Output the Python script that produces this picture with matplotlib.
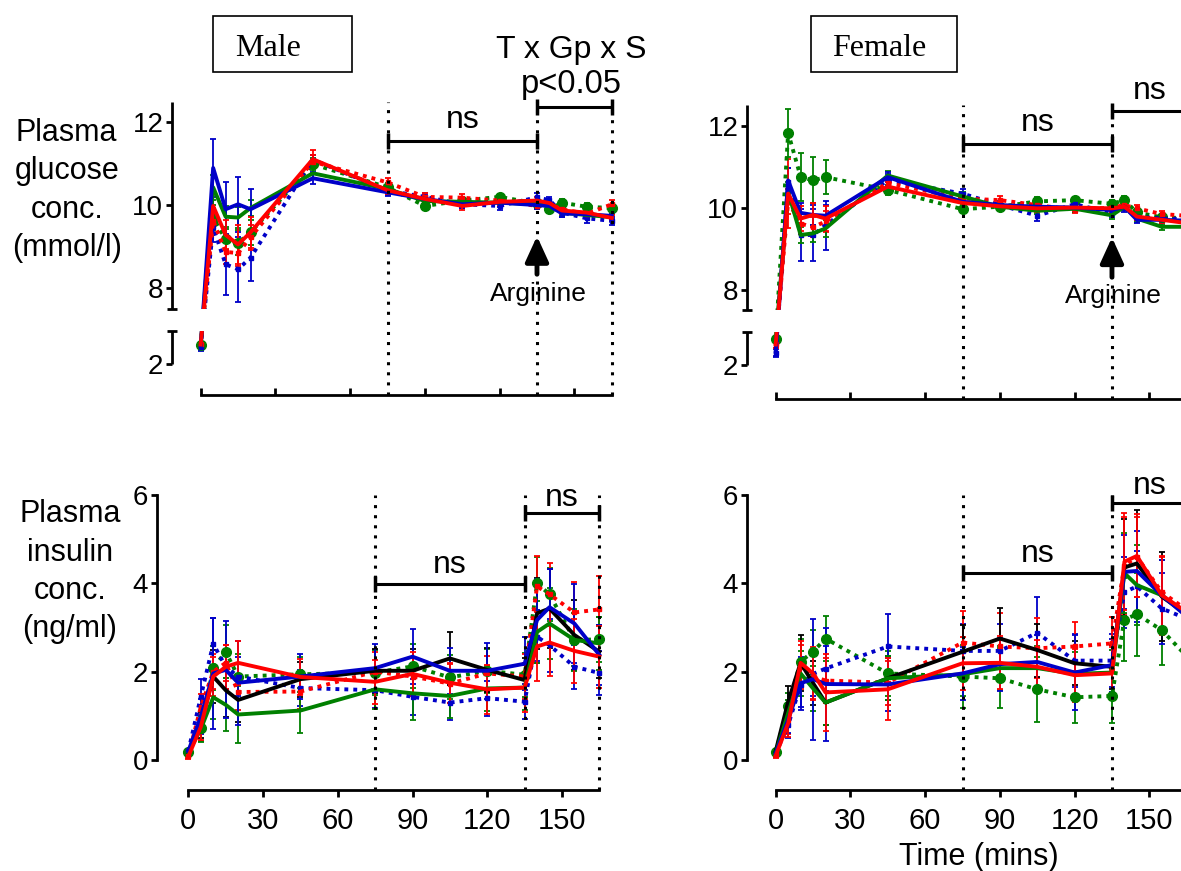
import numpy as np
import matplotlib
matplotlib.use('Agg')
import matplotlib.pyplot as plt
from matplotlib.patches import Rectangle

plt.rcParams['font.family'] = ['Liberation Sans', 'DejaVu Sans']

# ------------------------------- data ------------------------------- #
t = [0, 5, 10, 15, 20, 45, 75, 90, 105, 120, 135, 140, 145, 155, 165]
x_ticks = [0, 30, 60, 90, 120, 150]

# Male glucose (mmol/l)
m_glu_green = [2.45, 10.43, 9.72, 9.70, 9.93, 10.77, 10.39, 10.10, 10.08, 10.06, 10.02, 9.98, 9.82, 9.76, 9.71]
m_glu_blue = [2.42, 10.90, 9.90, 10.02, 9.90, 10.65, 10.31, 10.15, 10.02, 10.06, 10.00, 9.98, 9.80, 9.78, 9.74]
m_glu_red = [2.47, 9.98, 9.28, 9.05, 9.34, 11.11, 10.36, 10.15, 9.98, 10.08, 10.11, 10.05, 9.87, 9.82, 9.69]
m_glu_green_d = [2.45, 9.70, 9.17, 9.09, 9.34, 10.99, 10.43, 9.98, 10.11, 10.20, 10.04, 9.90, 10.06, 9.96, 9.93]
m_glu_blue_d = [2.40, 9.46, 8.57, 8.45, 8.73, 11.10, 10.35, 10.20, 10.02, 9.98, 10.19, 10.12, 9.82, 9.68, 9.62]
m_glu_red_d = [2.48, 9.62, 8.87, 8.84, 9.22, 11.05, 10.55, 10.20, 10.18, 10.11, 9.98, 10.02, 9.90, 9.79, 10.02]
m_glu_green_e = [0.05, 0.30, 0.25, 0.25, 0.20, 0.15, 0.10, 0.08, 0.08, 0.08, 0.08, 0.08, 0.08, 0.08, 0.08]
m_glu_blue_e = [0.08, 0.70, 0.65, 0.67, 0.50, 0.15, 0.10, 0.10, 0.10, 0.10, 0.10, 0.08, 0.08, 0.08, 0.08]
m_glu_red_e = [0.05, 0.30, 0.35, 0.48, 0.38, 0.22, 0.10, 0.08, 0.10, 0.08, 0.08, 0.08, 0.08, 0.08, 0.08]
m_glu_green_d_e = [0.05, 0.30, 0.25, 0.30, 0.30, 0.15, 0.10, 0.10, 0.08, 0.08, 0.08, 0.08, 0.08, 0.08, 0.08]
m_glu_blue_d_e = [0.08, 0.35, 0.74, 0.79, 0.57, 0.12, 0.10, 0.10, 0.10, 0.10, 0.10, 0.08, 0.10, 0.10, 0.10]
m_glu_red_d_e = [0.05, 0.30, 0.30, 0.30, 0.30, 0.15, 0.10, 0.10, 0.10, 0.08, 0.08, 0.08, 0.08, 0.10, 0.10]

# Female glucose (mmol/l)
f_glu_green = [2.63, 10.38, 9.33, 9.37, 9.49, 10.78, 10.27, 10.02, 9.92, 9.97, 9.81, 10.02, 9.73, 9.53, 9.53]
f_glu_blue = [2.32, 10.66, 9.87, 9.82, 9.80, 10.74, 10.14, 10.06, 10.02, 10.00, 9.94, 10.02, 9.70, 9.70, 9.68]
f_glu_red = [2.50, 10.34, 9.73, 9.82, 9.73, 10.51, 10.11, 10.03, 9.98, 10.00, 9.98, 10.02, 9.78, 9.70, 9.62]
f_glu_green_d = [2.63, 11.82, 10.75, 10.66, 10.74, 10.43, 9.96, 10.02, 10.15, 10.18, 10.09, 10.18, 9.88, 9.76, 9.74]
f_glu_blue_d = [2.30, 10.62, 9.33, 9.33, 9.57, 10.67, 10.34, 10.06, 9.80, 10.08, 9.87, 9.98, 9.78, 9.73, 9.72]
f_glu_red_d = [2.50, 10.14, 9.61, 9.52, 9.66, 10.60, 10.22, 10.18, 10.06, 9.94, 10.00, 10.06, 9.98, 9.84, 9.80]
f_glu_green_e = [0.05, 0.25, 0.20, 0.20, 0.20, 0.12, 0.10, 0.08, 0.08, 0.08, 0.08, 0.08, 0.08, 0.08, 0.08]
f_glu_blue_e = [0.10, 0.30, 0.25, 0.25, 0.25, 0.12, 0.10, 0.08, 0.08, 0.08, 0.08, 0.08, 0.08, 0.08, 0.08]
f_glu_red_e = [0.08, 0.84, 0.30, 0.30, 0.30, 0.12, 0.10, 0.10, 0.10, 0.08, 0.08, 0.08, 0.08, 0.08, 0.08]
f_glu_green_d_e = [0.05, 0.59, 0.59, 0.56, 0.42, 0.12, 0.10, 0.08, 0.10, 0.08, 0.10, 0.10, 0.08, 0.08, 0.08]
f_glu_blue_d_e = [0.10, 0.35, 0.64, 0.63, 0.60, 0.15, 0.10, 0.10, 0.12, 0.10, 0.10, 0.08, 0.08, 0.08, 0.08]
f_glu_red_d_e = [0.08, 0.30, 0.25, 0.25, 0.25, 0.12, 0.10, 0.10, 0.10, 0.08, 0.08, 0.08, 0.08, 0.08, 0.08]

# Male insulin (ng/ml)
m_ins_black = [0.17, 0.79, 1.89, 1.58, 1.36, 1.83, 2.02, 2.02, 2.30, 2.04, 1.81, 3.32, 3.43, 2.83, 2.45]
m_ins_green = [0.17, 0.70, 1.42, 1.25, 1.03, 1.12, 1.60, 1.51, 1.45, 1.62, 1.64, 2.90, 3.09, 2.72, 2.64]
m_ins_blue = [0.20, 0.98, 1.96, 2.04, 1.75, 1.89, 2.08, 2.34, 2.02, 2.02, 2.18, 3.17, 3.46, 3.09, 2.38]
m_ins_red = [0.08, 0.75, 1.89, 2.11, 2.20, 1.88, 1.77, 1.95, 1.75, 1.60, 1.64, 2.57, 2.66, 2.47, 2.34]
m_ins_green_d = [0.18, 0.73, 2.08, 2.45, 1.89, 1.94, 1.98, 2.12, 1.87, 2.02, 1.93, 4.00, 3.75, 2.72, 2.73]
m_ins_blue_d = [0.20, 1.43, 2.63, 2.11, 1.89, 1.63, 1.58, 1.43, 1.30, 1.40, 1.32, 2.79, 2.60, 2.11, 1.97]
m_ins_red_d = [0.10, 1.20, 2.00, 2.20, 1.54, 1.55, 2.00, 1.89, 1.73, 1.96, 1.89, 3.93, 3.75, 3.34, 3.41]
m_ins_black_e = [0.05, 0.30, 0.60, 0.60, 0.50, 0.40, 0.50, 0.50, 0.60, 0.50, 0.50, 0.80, 0.90, 0.80, 0.60]
m_ins_green_e = [0.05, 0.30, 0.50, 0.60, 0.65, 0.50, 0.45, 0.60, 0.50, 0.50, 0.50, 0.70, 0.80, 0.70, 0.60]
m_ins_blue_e = [0.05, 0.40, 1.25, 1.10, 0.95, 0.50, 0.55, 0.62, 0.52, 0.64, 0.60, 0.92, 0.86, 0.89, 0.68]
m_ins_red_e = [0.05, 0.30, 0.45, 0.50, 0.50, 0.40, 0.50, 0.50, 0.45, 0.55, 0.55, 0.78, 0.75, 0.72, 0.70]
m_ins_green_d_e = [0.05, 0.30, 0.50, 0.60, 0.50, 0.40, 0.50, 0.50, 0.50, 0.50, 0.50, 0.60, 0.60, 0.60, 0.50]
m_ins_blue_d_e = [0.05, 0.40, 0.58, 0.50, 0.45, 0.40, 0.40, 0.40, 0.40, 0.40, 0.40, 0.60, 0.60, 0.50, 0.50]
m_ins_red_d_e = [0.05, 0.30, 0.40, 0.40, 0.40, 0.40, 0.45, 0.45, 0.45, 0.40, 0.50, 0.69, 0.72, 0.70, 0.76]

# Female insulin (ng/ml)
f_ins_black = [0.20, 1.32, 2.20, 1.74, 1.30, 1.85, 2.45, 2.75, 2.49, 2.19, 2.11, 4.36, 4.45, 3.70, 3.30]
f_ins_green = [0.15, 1.06, 1.96, 1.62, 1.30, 1.85, 1.94, 2.08, 2.08, 1.95, 1.98, 4.23, 3.96, 3.73, 3.30]
f_ins_blue = [0.15, 0.91, 1.74, 1.83, 1.72, 1.71, 1.96, 2.17, 2.22, 1.98, 2.15, 4.26, 4.28, 3.73, 3.25]
f_ins_red = [0.10, 0.83, 2.20, 1.96, 1.53, 1.60, 2.19, 2.20, 2.11, 1.92, 1.96, 4.49, 4.62, 3.73, 3.35]
f_ins_green_d = [0.18, 1.22, 2.23, 2.45, 2.75, 1.96, 1.89, 1.85, 1.60, 1.42, 1.45, 3.18, 3.30, 2.94, 2.35]
f_ins_blue_d = [0.15, 0.79, 1.70, 1.95, 2.07, 2.57, 2.47, 2.47, 2.88, 2.25, 2.25, 3.80, 3.93, 3.43, 3.20]
f_ins_red_d = [0.12, 0.90, 2.11, 1.89, 1.80, 1.75, 2.66, 2.57, 2.53, 2.57, 2.64, 4.40, 4.60, 3.80, 3.40]
f_ins_black_e = [0.05, 0.35, 0.63, 0.50, 0.50, 0.50, 0.60, 0.70, 0.60, 0.50, 0.50, 1.10, 1.20, 1.00, 0.80]
f_ins_green_e = [0.05, 0.30, 0.50, 0.50, 0.50, 0.50, 0.50, 0.50, 0.50, 0.50, 0.50, 0.90, 0.90, 0.80, 0.70]
f_ins_blue_e = [0.05, 0.30, 0.60, 1.37, 1.28, 0.60, 0.60, 0.60, 0.60, 0.85, 0.60, 0.83, 0.90, 0.80, 0.70]
f_ins_red_e = [0.05, 0.30, 0.50, 0.60, 0.87, 0.70, 0.60, 0.60, 0.60, 0.60, 0.60, 1.10, 0.94, 0.90, 0.80]
f_ins_green_d_e = [0.05, 0.30, 0.50, 0.50, 0.50, 0.50, 0.72, 0.68, 0.73, 0.58, 0.61, 0.94, 0.94, 0.80, 0.70]
f_ins_blue_d_e = [0.05, 0.30, 0.50, 0.50, 0.50, 0.74, 0.60, 0.60, 0.80, 0.60, 0.60, 0.80, 0.80, 0.80, 0.70]
f_ins_red_d_e = [0.05, 0.30, 0.50, 0.50, 0.50, 0.50, 0.71, 0.76, 0.68, 0.56, 0.60, 1.10, 0.90, 0.80, 0.70]

GREEN = '#008000'
BLUE = '#0000c8'
RED = '#ff0000'

# broken glucose axis: 2-2.8 | gap | 7.5-12.5
LO, HI, GAP = 2.8, 7.5, 0.54


def fwd(y):
    y = np.asarray(y, dtype=float)
    return np.where(y <= LO, y, np.where(y >= HI, y - (HI - LO) + GAP, LO + (y - LO) * GAP / (HI - LO)))


def inv(y):
    y = np.asarray(y, dtype=float)
    return np.where(y <= LO, y, np.where(y >= LO + GAP, y + (HI - LO) - GAP, LO + (y - LO) * (HI - LO) / GAP))


W, H = 1181, 871
fig = plt.figure(figsize=(W / 100, H / 100), dpi=100)


def add_ax(left, top, right, bottom):
    return fig.add_axes([left / W, 1 - bottom / H, (right - left) / W, (bottom - top) / H])


def ftext(x, y, s, **kw):
    fig.text(x / W, 1 - y / H, s, **kw)


def draw(ax, y, e, color, dotted=False, marker=None, ms=0):
    ls = (0, (1, 1.3)) if dotted else '-'
    ax.errorbar(t, y, yerr=e, color=color, ls=ls, lw=2.8, marker=marker, ms=ms,
                elinewidth=1.3, capsize=2.5, capthick=1.3)


def draw_all(ax, green_d, ge_d, blue_d, be_d, red_d, re_d, green, ge, blue, be, red, re, black=None, ke=None):
    draw(ax, green_d, ge_d, GREEN, True, 'o', 7)
    draw(ax, blue_d, be_d, BLUE, True, 's', 3.5)
    draw(ax, red_d, re_d, RED, True, 's', 3)
    if black is not None:
        draw(ax, black, ke, 'black')
    draw(ax, green, ge, GREEN)
    draw(ax, blue, be, BLUE)
    draw(ax, red, re, RED)


def bracket(ax, t1, t2, y, label=None, dy=9, fs=23):
    ax.plot([t1, t2], [y, y], color='k', lw=2.2, clip_on=False, solid_capstyle='butt')
    ax.plot([t1, t2], [y, y], ls='none', marker='|', ms=11, mew=2.5, color='k', clip_on=False)
    if label:
        ax.annotate(label, xy=((t1 + t2) / 2, y), xytext=(0, dy), textcoords='offset points',
                    ha='center', va='baseline', fontsize=fs, annotation_clip=False)


def vlines(ax, times, frac_bottom):
    for tv in times:
        ax.plot([tv, tv], [frac_bottom, 1], transform=ax.get_xaxis_transform(), color='k',
                lw=2.2, ls=(0, (1, 2.3)), clip_on=False, zorder=7)


def arrow(ax, ytip, ytail):
    ax.annotate('', xy=(135, ytip), xytext=(135, ytail),
                arrowprops=dict(arrowstyle='-|>,head_length=0.7,head_width=0.32', lw=3.5,
                                color='k', mutation_scale=22, shrinkA=0, shrinkB=0))


def style_top(ax, off_px, xmax):
    ax.set_yscale('function', functions=(fwd, inv))
    for s in ['top', 'right', 'left']:
        ax.spines[s].set_visible(False)
    ax.spines['bottom'].set_position(('outward', off_px * 0.72))
    ax.spines['bottom'].set_bounds(0, 165)
    ax.spines['bottom'].set_linewidth(2)
    ax.set_xticks(x_ticks)
    ax.tick_params(axis='x', direction='in', length=5, width=2, labelbottom=False)
    ax.set_yticks([2, 8, 10, 12])
    ax.set_yticklabels(['2', '8', '10', '12'])
    ax.tick_params(axis='y', direction='out', length=4, width=2, pad=2, labelsize=20)
    tr = ax.get_yaxis_transform()
    ax.plot([0, 0], [2, LO], transform=tr, color='k', lw=2, clip_on=False, zorder=6, solid_capstyle='butt')
    ax.plot([0, 0], [HI, 12.5], transform=tr, color='k', lw=2, clip_on=False, zorder=6, solid_capstyle='butt')
    ax.plot([0, 0], [LO, HI], transform=tr, ls='none', marker='_', ms=7, mew=2, color='k',
            clip_on=False, zorder=6)
    ax.axhspan(LO, HI, xmin=0, xmax=0.09, color='white', lw=0, zorder=5)
    ax.patch.set_visible(False)
    ax.set_xlim(-11.64, xmax)
    ax.set_ylim(2, 12.5)


def style_bottom(ax, off_px, xmin, xmax):
    for s in ['top', 'right']:
        ax.spines[s].set_visible(False)
    ax.spines['left'].set_bounds(0, 6)
    ax.spines['left'].set_linewidth(2)
    ax.spines['bottom'].set_position(('outward', off_px * 0.72))
    ax.spines['bottom'].set_bounds(0, 165)
    ax.spines['bottom'].set_linewidth(2)
    ax.set_xticks(x_ticks)
    ax.tick_params(axis='x', direction='out', length=5, width=2, pad=7, labelsize=21)
    ax.set_yticks([0, 2, 4, 6])
    ax.tick_params(axis='y', direction='out', length=4, width=2, pad=2, labelsize=20)
    ax.patch.set_visible(False)
    ax.set_xlim(xmin, xmax)
    ax.set_ylim(0, 6)


# ------------------------------ Male glucose ------------------------------ #
ax1 = add_ax(171.7, 101.7, 619.2, 364)
draw_all(ax1, m_glu_green_d, m_glu_green_d_e, m_glu_blue_d, m_glu_blue_d_e, m_glu_red_d, m_glu_red_d_e,
         m_glu_green, m_glu_green_e, m_glu_blue, m_glu_blue_e, m_glu_red, m_glu_red_e)
style_top(ax1, 31, 168)
vlines(ax1, [75, 135, 165], -31 / 262.3)
bracket(ax1, 75, 135, 11.56, 'ns', 9.1)
bracket(ax1, 135, 165, 12.36)
arrow(ax1, 9.25, 8.33)

# ----------------------------- Female glucose ----------------------------- #
ax2 = add_ax(746.7, 105, 1211.6, 365)
draw_all(ax2, f_glu_green_d, f_glu_green_d_e, f_glu_blue_d, f_glu_blue_d_e, f_glu_red_d, f_glu_red_d_e,
         f_glu_green, f_glu_green_e, f_glu_blue, f_glu_blue_e, f_glu_red, f_glu_red_e)
style_top(ax2, 34, 175)
vlines(ax2, [75, 135, 165], -34 / 260)
bracket(ax2, 75, 135, 11.54, 'ns', 9.6)
bracket(ax2, 135, 165, 12.35, 'ns', 9.1)
arrow(ax2, 9.27, 8.30)

# ------------------------------ Male insulin ------------------------------ #
ax3 = add_ax(156.7, 495, 606.8, 760)
draw_all(ax3, m_ins_green_d, m_ins_green_d_e, m_ins_blue_d, m_ins_blue_d_e, m_ins_red_d, m_ins_red_d_e,
         m_ins_green, m_ins_green_e, m_ins_blue, m_ins_blue_e, m_ins_red, m_ins_red_e,
         m_ins_black, m_ins_black_e)
style_bottom(ax3, 30, -12.7, 168)
vlines(ax3, [75, 135, 165], -30 / 265)
bracket(ax3, 75, 135, 3.98, 'ns', 8)
bracket(ax3, 135, 165, 5.59, 'ns', 5.3)

# ----------------------------- Female insulin ----------------------------- #
ax4 = add_ax(746.7, 495, 1211.6, 760)
draw_all(ax4, f_ins_green_d, f_ins_green_d_e, f_ins_blue_d, f_ins_blue_d_e, f_ins_red_d, f_ins_red_d_e,
         f_ins_green, f_ins_green_e, f_ins_blue, f_ins_blue_e, f_ins_red, f_ins_red_e,
         f_ins_black, f_ins_black_e)
style_bottom(ax4, 30, -11.64, 175)
vlines(ax4, [75, 135, 165], -30 / 265)
bracket(ax4, 75, 135, 4.24, 'ns', 8)
bracket(ax4, 135, 165, 5.83, 'ns', 6)

# ------------------------------- text ------------------------------- #
for (x0, x1) in [(213.3, 352.3), (810.7, 956.7)]:
    fig.add_artist(Rectangle((x0 / W, 1 - 71.7 / H), (x1 - x0) / W, (71.7 - 16) / H,
                             transform=fig.transFigure, fill=False, lw=1.2, ec='k'))
ftext(235, 56, 'Male', family='Liberation Serif', fontsize=23, va='baseline')
ftext(831.7, 56, 'Female', family='Liberation Serif', fontsize=23, va='baseline')
ftext(571, 58.3, 'T x Gp x S', fontsize=23, ha='center', va='baseline')
ftext(571.7, 93, 'p<0.05', fontsize=23.5, ha='center', va='baseline')
ftext(66.7, 118, 'Plasma\nglucose\nconc.\n(mmol/l)', fontsize=22, ha='center', va='top',
      multialignment='center', linespacing=1.36)
ftext(70, 499.5, 'Plasma\ninsulin\nconc.\n(ng/ml)', fontsize=22, ha='center', va='top',
      multialignment='center', linespacing=1.36)
ftext(538.8, 300.7, 'Arginine', fontsize=19, ha='center', va='baseline')
ftext(1113.8, 303.3, 'Arginine', fontsize=19, ha='center', va='baseline')
ftext(979, 865, 'Time (mins)', fontsize=22, ha='center', va='baseline')

fig.savefig('out.png', dpi=100)
